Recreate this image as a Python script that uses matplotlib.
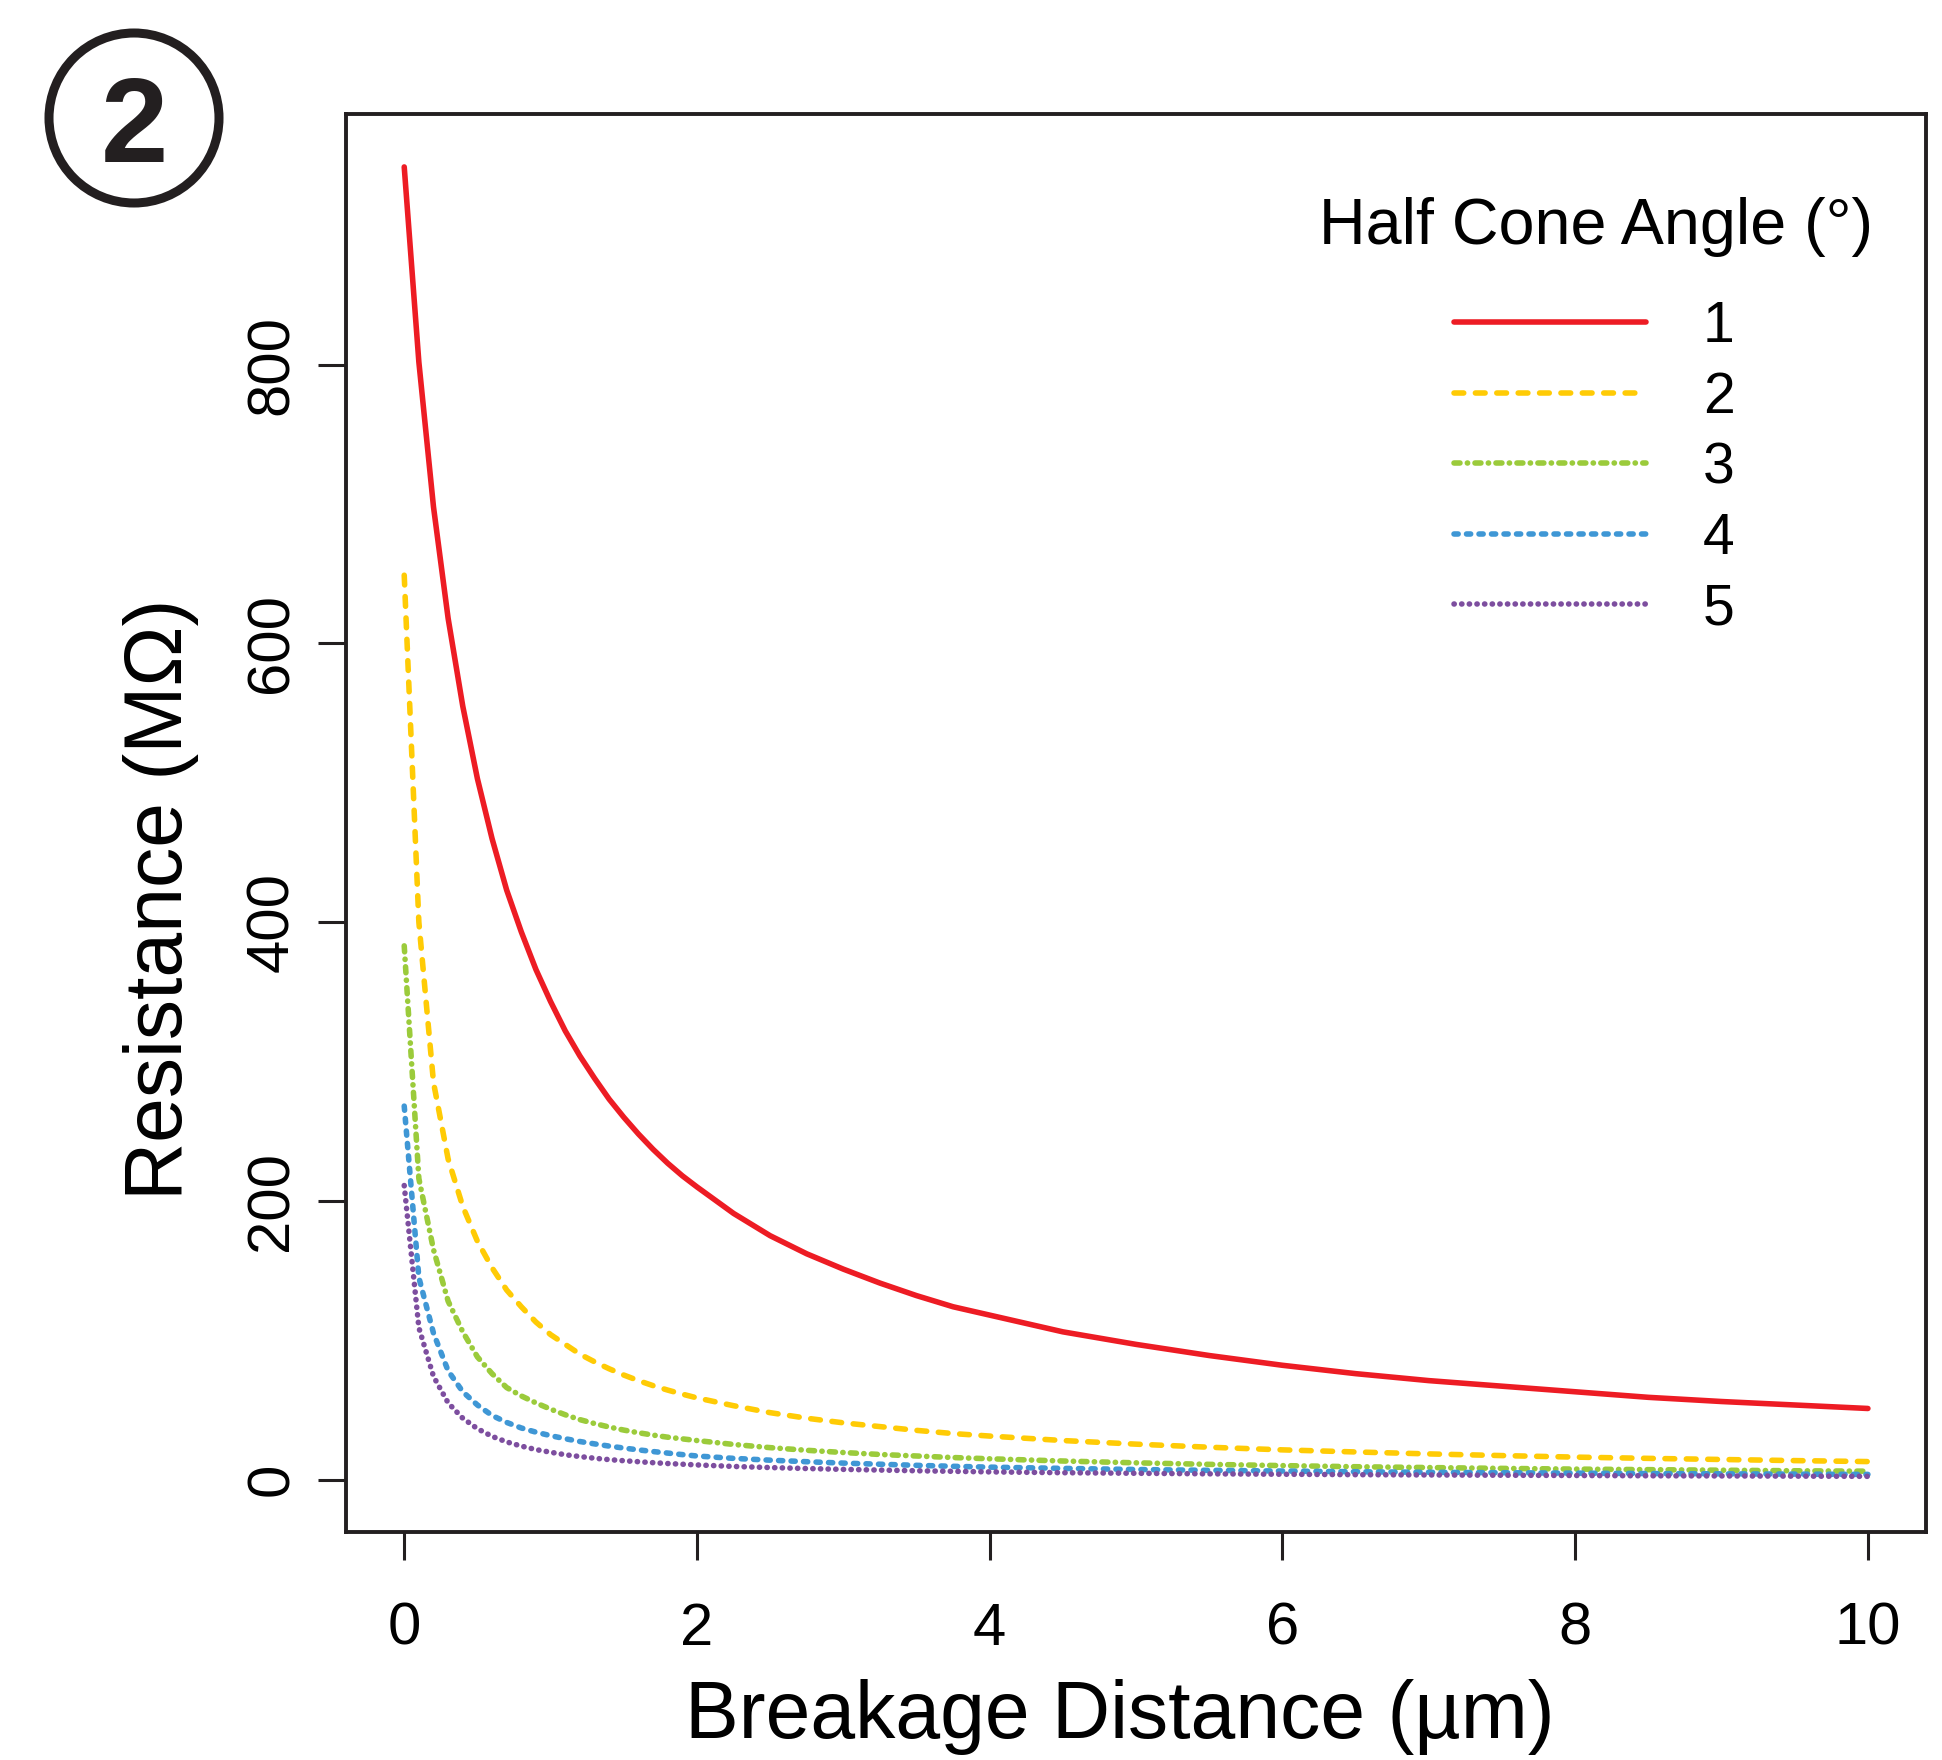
import matplotlib
matplotlib.use("Agg")
import matplotlib.pyplot as plt
from matplotlib.patches import Ellipse

plt.rcParams["font.family"] = ["Liberation Sans", "DejaVu Sans"]
plt.rcParams["lines.scale_dashes"] = False

# breakage distance (um), sampled finely near the tip
distance = [0, 0.1, 0.2, 0.3, 0.4, 0.5, 0.6, 0.7, 0.8, 0.9, 1.0,
            1.1, 1.2, 1.3, 1.4, 1.5, 1.6, 1.7, 1.8, 1.9, 2.0,
            2.25, 2.5, 2.75, 3.0, 3.25, 3.5, 3.75, 4.0,
            4.5, 5.0, 5.5, 6.0, 6.5, 7.0, 7.5, 8.0, 8.5, 9.0, 9.5, 10.0]

angle_labels = ["1", "2", "3", "4", "5"]

# resistance (MOhm) for each half cone angle
res_1deg = [942, 802, 698, 618, 555, 503, 460, 423, 393, 366, 343,
            322, 304, 288, 273, 260, 248, 237, 227, 218, 210,
            191, 175, 162, 151, 141, 132, 124, 118,
            106, 97, 89, 82, 76, 71, 67, 63, 59, 56, 53.5, 51]
res_2deg = [649, 400, 285, 230, 196, 171, 152, 136, 124, 113, 104,
            97, 90, 84.5, 79.5, 75, 71, 67.4, 64.2, 61.3, 58.6,
            53, 48, 44, 40.7, 38, 35.3, 33, 31.2,
            28, 25.4, 23.2, 21.3, 19.8, 18.4, 17.2, 16.1, 15.2, 14.4, 13.6, 12.9]
res_3deg = [383, 216, 165, 128, 106, 88, 76, 66, 60, 55, 50.5,
            46.5, 43, 40.2, 37.7, 35.5, 33.6, 31.9, 30.4, 29.2, 28,
            25.2, 22.9, 21, 19.4, 18, 16.9, 15.8, 14.9,
            13.3, 12.0, 10.9, 10.0, 9.2, 8.6, 8.0, 7.5, 7.1, 6.7, 6.3, 6.0]
res_4deg = [268, 145, 105, 78, 63, 53.5, 46, 41, 37, 34, 31.5,
            29.3, 27.3, 25.6, 24, 22.6, 21.3, 20.1, 19, 17.9, 16.9,
            15.2, 13.9, 12.8, 11.8, 11, 10.2, 9.5, 8.9,
            8.0, 7.2, 6.6, 6.1, 5.6, 5.2, 4.9, 4.6, 4.3, 4.1, 3.9, 3.7]
res_5deg = [211, 109, 74, 55, 44, 36.5, 31, 27, 24, 21.5, 19.6,
            17.8, 16.5, 15.3, 14.3, 13.5, 12.8, 12.1, 11.5, 11, 10.5,
            9.4, 8.6, 7.9, 7.3, 6.8, 6.3, 5.9, 5.5,
            4.9, 4.5, 4.1, 3.8, 3.5, 3.3, 3.1, 2.9, 2.7, 2.6, 2.45, 2.3]

series = [res_1deg, res_2deg, res_3deg, res_4deg, res_5deg]
colors = ["#ED1C24", "#FFCB05", "#9BCB3B", "#3F97D5", "#7D4E9F"]
dash_patterns = [None, (7.0, 8.4), (4.3, 5.3, 0.2, 5.3), (3.0, 6.0), (0.2, 5.3)]
ink = "#231F20"

fig = plt.figure(figsize=(19.42, 17.60), dpi=100)
ax = fig.add_axes([0.178, 0.1295, 0.814, 0.8055])

handles = []
for vals, col, dp, lab in zip(series, colors, dash_patterns, angle_labels):
    ln, = ax.plot(distance, vals, color=col, lw=4.0,
                  solid_capstyle="round", dash_capstyle="round", label=lab)
    if dp is not None:
        ln.set_dashes(dp)
    handles.append(ln)

ax.set_xlim(-0.4, 10.4)
ax.set_ylim(-37.7, 979.7)
ax.set_xticks([0, 2, 4, 6, 8, 10])
ax.set_yticks([0, 200, 400, 600, 800])

for sp in ax.spines.values():
    sp.set_linewidth(2.8)
    sp.set_color(ink)

ax.tick_params(axis="both", direction="out", length=20, width=2.2,
               color=ink, labelsize=43, labelcolor="black")
ax.tick_params(axis="x", pad=30)
ax.tick_params(axis="y", pad=13, labelrotation=90)
for lbl in ax.get_yticklabels():
    lbl.set_va("center")

ax.set_xlabel("Breakage Distance (µm)", fontsize=58)
ax.xaxis.set_label_coords(0.49, -0.1037)
ax.set_ylabel("Resistance (MΩ)", fontsize=58)
ax.yaxis.set_label_coords(-0.0926, 0.446)

# legend
fig.text(1596 / 1942, 1 - 244 / 1760, "Half Cone Angle (°)", fontsize=46.5,
         ha="center", va="baseline")
ax.legend(handles, angle_labels, loc="center",
          bbox_to_anchor=(0.821, 0.734), bbox_transform=fig.transFigure,
          frameon=False, fontsize=41, handlelength=3.37, handletextpad=1.0,
          labelspacing=0.29, borderpad=0)

# panel badge
fig.add_artist(Ellipse((134 / 1942, 1 - 118 / 1760), 2 * 85 / 1942, 2 * 85 / 1760,
                       transform=fig.transFigure, fill=False, lw=6.5, ec=ink))
fig.text(134 / 1942, 1 - 161.5 / 1760, "2", fontsize=87, fontweight="bold",
         color=ink, ha="center", va="baseline")

fig.savefig("out.png", dpi=100)
